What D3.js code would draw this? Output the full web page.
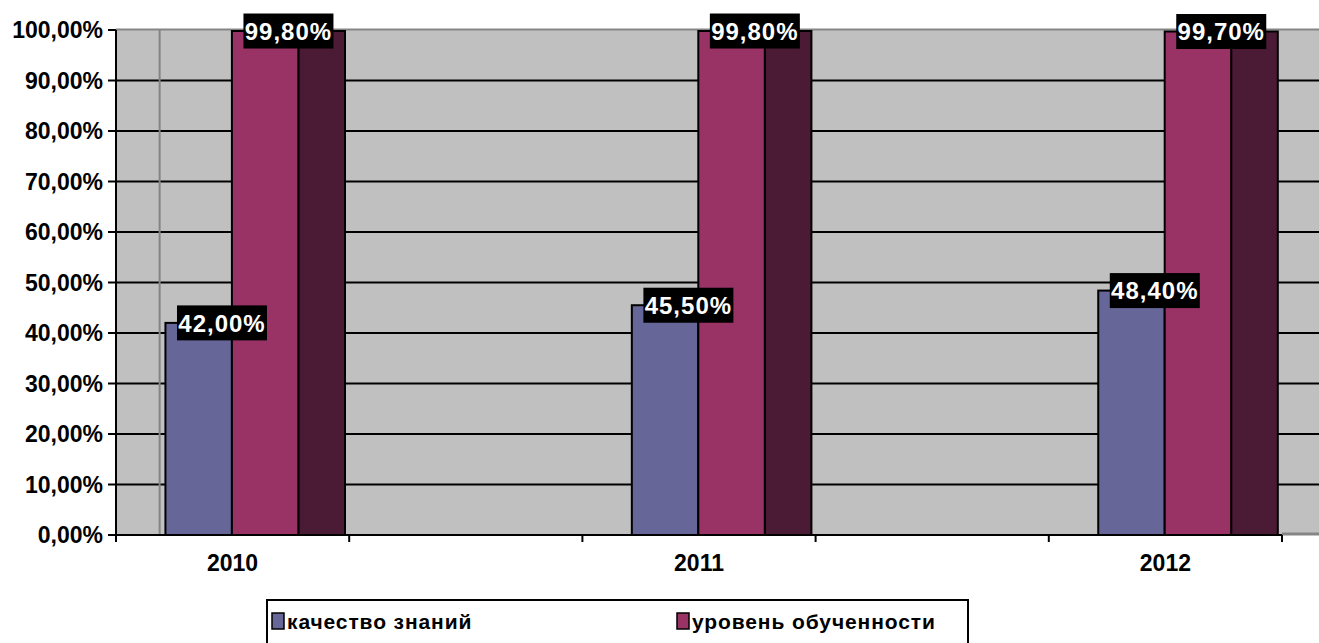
<!DOCTYPE html>
<html>
<head>
<meta charset="utf-8">
<script src="https://cdn.jsdelivr.net/npm/d3@7"></script>
<style>
  html, body { margin: 0; padding: 0; background: #fff; }
  svg { display: block; font-family: "Liberation Sans", Arial, sans-serif; font-weight: bold; }
</style>
</head>
<body>
<div id="chart"></div>
<script>
// Chart data (blank categories are spacer slots, as in the source sheet)
const categories = ['2010', '', '2011', '', '2012'];
const kachestvo = [0.42, null, 0.455, null, 0.484];
const uroven = [0.998, null, 0.998, null, 0.997];
const seriesNames = ['качество знаний', 'уровень обученности'];
const yTicks = [0, 0.1, 0.2, 0.3, 0.4, 0.5, 0.6, 0.7, 0.8, 0.9, 1.0];

const width = 1319, height = 643;
const colors = ['#666699', '#993366'];
const sideColor = '#4b1a35';

const svg = d3.select('#chart').append('svg')
    .attr('width', width)
    .attr('height', height);

const x = d3.scaleBand()
    .domain(d3.range(categories.length))
    .range([116, 1282]);

const y = d3.scaleLinear()
    .domain([0, 1])
    .range([535, 30]);

const fmt = v => (v * 100).toFixed(2).replace('.', ',') + '%';

// plot area (back wall + side wall)
svg.append('rect')
    .attr('x', x.range()[0])
    .attr('y', y(1))
    .attr('width', width - x.range()[0])
    .attr('height', y(0) - y(1))
    .attr('fill', '#c0c0c0');

// gridlines
svg.append('g')
    .selectAll('line')
    .data(yTicks.filter(t => t > 0 && t < 1))
    .join('line')
    .attr('x1', x.range()[0])
    .attr('x2', width)
    .attr('y1', d => y(d))
    .attr('y2', d => y(d))
    .attr('stroke', '#000')
    .attr('stroke-width', 2);

const depth = x.bandwidth() * 0.2;

// wall edges
svg.append('line')
    .attr('x1', x.range()[0]).attr('x2', width)
    .attr('y1', y(1) - 0.5).attr('y2', y(1) - 0.5)
    .attr('stroke', '#858585').attr('stroke-width', 2);
svg.append('line')
    .attr('x1', x.range()[0] + depth - 3).attr('x2', x.range()[0] + depth - 3)
    .attr('y1', y(1)).attr('y2', y(0))
    .attr('stroke', '#858585').attr('stroke-width', 2);
svg.append('line')
    .attr('x1', x.range()[1]).attr('x2', width)
    .attr('y1', y(0) - 1).attr('y2', y(0) - 1)
    .attr('stroke', '#858585').attr('stroke-width', 3);

// bars
const barOffset = x.bandwidth() * 0.212;
const barW = x.bandwidth() * 0.285;
const series = [kachestvo, uroven];
const labels = [];

series.forEach((vals, si) => {
    const g = svg.append('g');
    vals.forEach((v, i) => {
        if (v == null) return;
        const x0 = x(i) + barOffset + si * barW;
        const top = y(v);
        // side face
        g.append('rect')
            .attr('x', x0 + barW)
            .attr('y', top)
            .attr('width', depth)
            .attr('height', y(0) - top)
            .attr('fill', sideColor)
            .attr('stroke', '#000')
            .attr('stroke-width', 2);
        // front face
        g.append('rect')
            .attr('x', x0)
            .attr('y', top)
            .attr('width', barW)
            .attr('height', y(0) - top)
            .attr('fill', colors[si])
            .attr('stroke', '#000')
            .attr('stroke-width', 2);
        labels.push({ cx: x0 + barW / 2 + depth / 2, cy: top, text: fmt(v) });
    });
});

// y axis
svg.append('line')
    .attr('x1', x.range()[0]).attr('x2', x.range()[0])
    .attr('y1', y(1)).attr('y2', y(0))
    .attr('stroke', '#000').attr('stroke-width', 2);

const yAxis = svg.append('g');
yAxis.selectAll('line')
    .data(yTicks)
    .join('line')
    .attr('x1', x.range()[0] - 8)
    .attr('x2', x.range()[0])
    .attr('y1', d => y(d))
    .attr('y2', d => y(d))
    .attr('stroke', '#000')
    .attr('stroke-width', 2);
yAxis.selectAll('text')
    .data(yTicks)
    .join('text')
    .attr('x', x.range()[0] - 13)
    .attr('y', d => y(d))
    .attr('dy', '0.36em')
    .attr('text-anchor', 'end')
    .attr('font-size', 23)
    .text(d => fmt(d));

// x axis
svg.append('line')
    .attr('x1', x.range()[0]).attr('x2', x.range()[1])
    .attr('y1', y(0)).attr('y2', y(0))
    .attr('stroke', '#000').attr('stroke-width', 2);

const boundaries = d3.range(categories.length + 1)
    .map(i => x.range()[0] + i * x.step());
svg.append('g')
    .selectAll('line')
    .data(boundaries)
    .join('line')
    .attr('x1', d => d).attr('x2', d => d)
    .attr('y1', y(0)).attr('y2', y(0) + 7)
    .attr('stroke', '#000')
    .attr('stroke-width', 2);

svg.append('g')
    .selectAll('text')
    .data(categories)
    .join('text')
    .attr('x', (d, i) => x(i) + x.bandwidth() / 2)
    .attr('y', 571)
    .attr('text-anchor', 'middle')
    .attr('font-size', 23)
    .text(d => d);

// data labels
const lg = svg.append('g');
labels.forEach(l => {
    const t = lg.append('text')
        .attr('x', l.cx)
        .attr('y', l.cy)
        .attr('dy', '0.36em')
        .attr('text-anchor', 'middle')
        .attr('font-size', 24)
        .attr('letter-spacing', 1)
        .attr('fill', '#fff')
        .text(l.text);
    lg.insert('rect', () => t.node())
        .attr('x', l.cx - 45)
        .attr('y', l.cy - 17.5)
        .attr('width', 90)
        .attr('height', 35)
        .attr('fill', '#000');
});

// legend
const legend = svg.append('g');
legend.append('rect')
    .attr('x', 267).attr('y', 600)
    .attr('width', 701).attr('height', 60)
    .attr('fill', '#fff')
    .attr('stroke', '#000')
    .attr('stroke-width', 2);

const legendX = [272, 677];
seriesNames.forEach((name, i) => {
    legend.append('rect')
        .attr('x', legendX[i]).attr('y', 613)
        .attr('width', 12).attr('height', 16)
        .attr('fill', colors[i])
        .attr('stroke', '#000')
        .attr('stroke-width', 1.5);
    legend.append('text')
        .attr('x', legendX[i] + 15)
        .attr('y', 629)
        .attr('font-size', 21)
        .attr('letter-spacing', 0.9)
        .text(name);
});
</script>
</body>
</html>
